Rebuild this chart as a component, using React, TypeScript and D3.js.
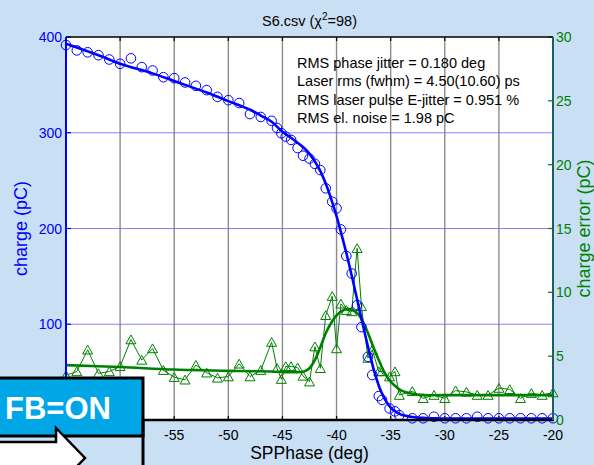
import React, { useEffect, useRef } from 'react';
import * as d3 from 'd3';

// measured points (phase in deg, charge in pC, charge error in pC)
const phase = [
  -65, -64, -63, -62, -61, -60, -59, -58, -57, -56, -55, -54, -53, -52, -51, -50, -49, -48, -47, -46,
  -45.5, -45.1, -44.7, -44.2, -43.6, -43.1, -42.5, -42.0, -41.5, -41.0, -40.4, -40.0, -39.6, -39.1,
  -38.6, -38.1, -37.7, -37.1, -36.7, -36.1, -35.8, -35.1, -34.6, -34.2,
  -33, -32, -31, -30, -29, -28, -27, -26, -25, -24, -23, -22, -21, -20,
];
const charge = [
  391.6, 386, 384, 381, 376.5, 372, 377.7, 368.5, 365, 358, 357, 352.5, 349, 344.5, 337.5, 334, 331, 319.5, 316.5, 312.5,
  305, 299.5, 296, 292.5, 284, 276, 273, 267.5, 261, 242, 228, 221, 199, 171.3,
  153, 120, 97, 66, 47, 25, 21, 12, 9, 5,
  1.8, 1.8, 3.4, 1.8, 1.8, 1.8, 3.4, 1.8, 1.8, 1.8, 1.8, 1.8, 1.8, 1.8,
];
const chargeErr = [
  3.5, 3.8, 5.5, 3.65, 3.8, 4.2, 6.3, 4.7, 5.6, 3.9, 3.35, 3.15, 4.3, 3.7, 3.3, 3.4, 4.4, 3.4, 3.9, 6.1,
  4.05, 3.2, 4.2, 4.2, 4.1, 3.45, 3.0, 5.75, 4.05, 8.2, 9.7, 5.6, 9.1, 8.6,
  8.5, 13.45, 8.9, 4.85, 5.5, 3.8, 3.8, 3.4, 3.8, 1.95,
  2.25, 1.7, 1.95, 1.7, 2.3, 2.2, 1.95, 1.95, 2.5, 2.4, 1.7, 2.1, 1.95, 2.15,
];

// fitted curves
const fitPhase = [
  -65, -62, -60, -57, -55, -52, -50, -48, -47, -46, -45, -44, -43, -42.5, -42, -41.5, -41, -40.5, -40, -39.5,
  -39, -38.5, -38, -37.5, -37, -36.5, -36, -35.5, -35, -34.5, -34, -33, -32, -31, -30, -25, -20,
];
const fitCharge = [
  393, 381, 372, 362, 354, 342, 333, 324, 318, 311.5, 301, 293, 284, 278, 270, 260, 247, 231, 213, 192,
  170, 146, 121, 96, 72, 50, 33, 21, 13, 8.5, 5.5, 3.2, 2.2, 1.8, 1.5, 1.5, 1.5,
];
const errFitPhase = [
  -65, -60, -55, -50, -46, -44, -43, -42.5, -42, -41.5, -41, -40.5, -40, -39.5, -39, -38.5, -38, -37.5,
  -37, -36.5, -36, -35.5, -35, -34.5, -34, -33, -32, -30, -20,
];
const errFit = [
  4.3, 4.15, 3.95, 3.85, 3.8, 3.75, 3.8, 4.05, 4.7, 5.7, 6.8, 7.6, 8.2, 8.55, 8.7, 8.6, 8.3, 7.6,
  6.6, 5.5, 4.5, 3.6, 3.0, 2.6, 2.3, 2.05, 1.95, 1.95, 1.95,
];

const gridTicks = [-65, -60, -55, -50, -45, -40, -35, -30, -25, -20];
const xTickLabels = [-55, -50, -45, -40, -35, -30, -25, -20];
const leftTicks = [0, 100, 200, 300, 400];
const leftTickLabels = [100, 200, 300, 400];
const rightTicks = [0, 5, 10, 15, 20, 25, 30];
const infoLines = [
  'RMS phase jitter = 0.180 deg',
  'Laser rms (fwhm) = 4.50(10.60) ps',
  'RMS laser pulse E-jitter = 0.951 %',
  'RMS el. noise = 1.98 pC',
];

const W = 594;
const H = 465;
const margin = { top: 37, right: 41, bottom: 45, left: 66 };
const font = '"Liberation Sans", Arial, sans-serif';

export default function App() {
  const ref = useRef<SVGSVGElement>(null);

  useEffect(() => {
    const svg = d3.select(ref.current);
    svg.selectAll('*').remove();

    const x0 = margin.left;
    const x1 = W - margin.right;
    const y0 = margin.top;
    const y1 = H - margin.bottom;

    const x = d3.scaleLinear().domain([-65, -20]).range([x0, x1]);
    const yL = d3.scaleLinear().domain([0, 400]).range([y1, y0]);
    const yR = d3.scaleLinear().domain([0, 30]).range([y1, y0]);

    svg.append('rect').attr('width', W).attr('height', H).attr('fill', '#c9dff4');
    svg.append('rect').attr('x', x0).attr('y', y0).attr('width', x1 - x0).attr('height', y1 - y0).attr('fill', '#fff');

    // grid
    svg.append('g').selectAll('line').data(gridTicks.filter((t) => t > -65 && t < -20)).enter().append('line')
      .attr('x1', (d) => x(d)).attr('x2', (d) => x(d)).attr('y1', y0).attr('y2', y1)
      .attr('stroke', '#8c8c8c').attr('stroke-width', 1.4);
    svg.append('g').selectAll('line').data([100, 200, 300]).enter().append('line')
      .attr('x1', x0).attr('x2', x1).attr('y1', (d) => yL(d)).attr('y2', (d) => yL(d))
      .attr('stroke', '#6f6fff').attr('stroke-width', 1).attr('opacity', 0.85);

    // frame ticks top / bottom
    const tk = svg.append('g').attr('stroke', '#000').attr('stroke-width', 1.2);
    gridTicks.forEach((t) => {
      tk.append('line').attr('x1', x(t)).attr('x2', x(t)).attr('y1', y0).attr('y2', y0 + 4);
      tk.append('line').attr('x1', x(t)).attr('x2', x(t)).attr('y1', y1).attr('y2', y1 - 4);
    });

    // left / right ticks
    svg.append('g').selectAll('line').data(leftTicks).enter().append('line')
      .attr('x1', x0).attr('x2', x0 + 5).attr('y1', (d) => yL(d)).attr('y2', (d) => yL(d))
      .attr('stroke', '#0000ff').attr('stroke-width', 1.2);
    svg.append('g').selectAll('line').data(rightTicks).enter().append('line')
      .attr('x1', x1 - 5).attr('x2', x1).attr('y1', (d) => yR(d)).attr('y2', (d) => yR(d))
      .attr('stroke', '#008000').attr('stroke-width', 1.2);

    // green data: thin line + triangles + fit
    const pts = phase.map((p, i) => ({ p, q: charge[i], e: chargeErr[i] }));
    svg.append('path')
      .attr('d', d3.line<any>().x((d) => x(d.p)).y((d) => yR(d.e))(pts) as string)
      .attr('fill', 'none').attr('stroke', '#008000').attr('stroke-width', 1);
    svg.append('g').selectAll('path').data(pts).enter().append('path')
      .attr('d', (d) => {
        const cx = x(d.p);
        const cy = yR(d.e);
        return `M${cx},${cy - 4.6}L${cx + 5},${cy + 4.2}L${cx - 5},${cy + 4.2}Z`;
      })
      .attr('fill', 'none').attr('stroke', '#008000').attr('stroke-width', 1);
    svg.append('path')
      .attr('d', d3.line<number>().x((d, i) => x(errFitPhase[i])).y((d) => yR(d)).curve(d3.curveCatmullRom)(errFit) as string)
      .attr('fill', 'none').attr('stroke', '#008000').attr('stroke-width', 2.6);

    // blue data: circles + fit
    svg.append('g').selectAll('circle').data(pts).enter().append('circle')
      .attr('cx', (d) => x(d.p)).attr('cy', (d) => yL(d.q)).attr('r', 4.8)
      .attr('fill', 'none').attr('stroke', '#0000ff').attr('stroke-width', 1);
    svg.append('path')
      .attr('d', d3.line<number>().x((d, i) => x(fitPhase[i])).y((d) => yL(d)).curve(d3.curveCatmullRom)(fitCharge) as string)
      .attr('fill', 'none').attr('stroke', '#0000ff').attr('stroke-width', 2.6);

    // axes lines
    svg.append('line').attr('x1', x0).attr('x2', x1).attr('y1', y0).attr('y2', y0).attr('stroke', '#000').attr('stroke-width', 1.5);
    svg.append('line').attr('x1', x0).attr('x2', x1 + 1).attr('y1', y1).attr('y2', y1).attr('stroke', '#000').attr('stroke-width', 2.6);
    svg.append('line').attr('x1', x0).attr('x2', x0).attr('y1', y0).attr('y2', y1).attr('stroke', '#0000ff').attr('stroke-width', 2);
    svg.append('line').attr('x1', x1).attr('x2', x1).attr('y1', y0).attr('y2', y1).attr('stroke', '#1b5f66').attr('stroke-width', 2);

    // tick labels
    svg.append('g').selectAll('text').data(xTickLabels).enter().append('text')
      .attr('x', (d) => x(d)).attr('y', 440).attr('text-anchor', 'middle')
      .attr('font-family', font).attr('font-size', 14).attr('fill', '#000').text((d) => d);
    svg.append('g').selectAll('text').data(leftTickLabels).enter().append('text')
      .attr('x', x0 - 4).attr('y', (d) => yL(d) + 5).attr('text-anchor', 'end')
      .attr('font-family', font).attr('font-size', 14).attr('fill', '#0000ff').text((d) => d);
    svg.append('g').selectAll('text').data(rightTicks).enter().append('text')
      .attr('x', x1 + 3).attr('y', (d) => yR(d) + 5).attr('text-anchor', 'start')
      .attr('font-family', font).attr('font-size', 14).attr('fill', '#008000').text((d) => d);

    // axis labels
    svg.append('text').attr('transform', `translate(27,${(y0 + y1) / 2}) rotate(-90)`)
      .attr('text-anchor', 'middle').attr('font-family', font).attr('font-size', 18).attr('fill', '#0000ff')
      .text('charge (pC)');
    svg.append('text').attr('transform', `translate(590,${(y0 + y1) / 2}) rotate(-90)`)
      .attr('text-anchor', 'middle').attr('font-family', font).attr('font-size', 18).attr('fill', '#008000')
      .text('charge error (pC)');
    svg.append('text').attr('x', (x0 + x1) / 2).attr('y', 459).attr('text-anchor', 'middle')
      .attr('font-family', font).attr('font-size', 17.5).attr('fill', '#000').text('SPPhase (deg)');

    // title
    const title = svg.append('text').attr('x', (x0 + x1) / 2).attr('y', 26).attr('text-anchor', 'middle')
      .attr('font-family', font).attr('font-size', 14.5).attr('fill', '#000');
    title.append('tspan').text('S6.csv  (\u03c7');
    title.append('tspan').attr('font-size', 10).attr('dy', -6).text('2');
    title.append('tspan').attr('dy', 6).text('=98)');

    // info text
    svg.append('g').selectAll('text').data(infoLines).enter().append('text')
      .attr('x', 297).attr('y', (d, i) => 68 + i * 18.3)
      .attr('font-family', font).attr('font-size', 14.5).attr('fill', '#000').text((d) => d);

    // FB=ON annotation
    svg.append('rect').attr('x', -3).attr('y', 378).attr('width', 146).attr('height', 58)
      .attr('fill', '#00a6e6').attr('stroke', '#000').attr('stroke-width', 3);
    svg.append('line').attr('x1', 143).attr('x2', 143).attr('y1', 420).attr('y2', H)
      .attr('stroke', '#000').attr('stroke-width', 3);
    svg.append('text').attr('x', 5).attr('y', 419).attr('font-family', font).attr('font-weight', 'bold')
      .attr('font-size', 31).attr('fill', '#fff').text('FB=ON');
    svg.append('path').attr('d', 'M-3,442L56,442L56,428L85,458L56,488L56,474L-3,474Z')
      .attr('fill', '#fff').attr('stroke', '#000').attr('stroke-width', 2.5);
  }, []);

  return (
    <div style={{ position: 'absolute', left: 0, top: 0 }}>
      <svg ref={ref} width={W} height={H}></svg>
    </div>
  );
}
